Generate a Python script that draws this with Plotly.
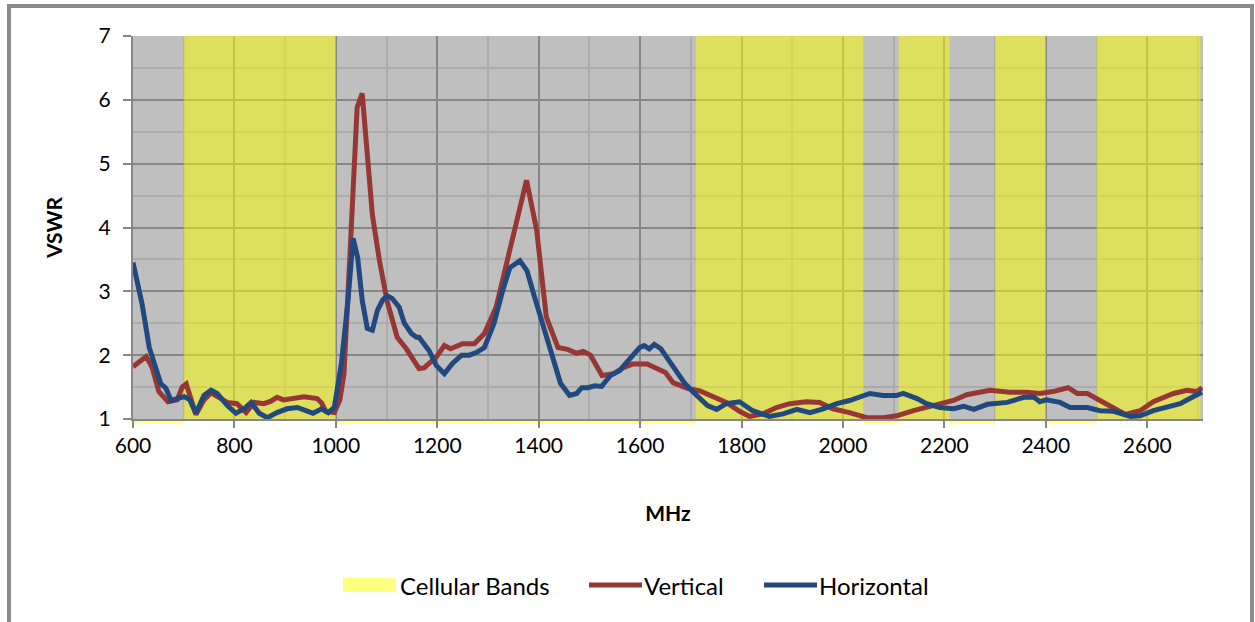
import plotly.graph_objects as go

# ---------------- data ----------------
vert_f = [600, 626, 638, 651, 669, 687, 697, 705, 724, 740, 754, 770, 786, 805, 823, 839, 858, 872, 884, 897,
          917, 937, 963, 972, 980, 997, 1008, 1016, 1026, 1042, 1052, 1062, 1072, 1086, 1101, 1121, 1139, 1164,
          1174, 1198, 1214, 1226, 1234, 1250, 1273, 1293, 1316, 1339, 1354, 1376, 1396, 1415, 1438, 1457, 1475,
          1488, 1502, 1525, 1548, 1568, 1585, 1614, 1633, 1650, 1665, 1693, 1718, 1737, 1751, 1770, 1796, 1816,
          1842, 1869, 1895, 1928, 1954, 1980, 2013, 2047, 2079, 2106, 2139, 2165, 2197, 2218, 2244, 2290, 2329,
          2362, 2388, 2414, 2444, 2462, 2482, 2507, 2534, 2557, 2586, 2612, 2652, 2678, 2698, 2708]
vert_v = [1.82, 1.98, 1.80, 1.43, 1.27, 1.30, 1.50, 1.55, 1.07, 1.30, 1.41, 1.34, 1.26, 1.24, 1.10, 1.26, 1.24, 1.28,
          1.34, 1.30, 1.33, 1.35, 1.32, 1.25, 1.12, 1.10, 1.30, 1.71, 3.28, 5.88, 6.10, 5.10, 4.20, 3.48, 2.85, 2.28,
          2.10, 1.79, 1.80, 1.97, 2.15, 2.10, 2.13, 2.18, 2.18, 2.34, 2.75, 3.53, 4.06, 4.74, 3.96, 2.60, 2.12, 2.09,
          2.03, 2.06, 2.00, 1.68, 1.71, 1.81, 1.86, 1.86, 1.79, 1.73, 1.57, 1.48, 1.44, 1.37, 1.34, 1.26, 1.12, 1.04,
          1.08, 1.18, 1.24, 1.27, 1.26, 1.16, 1.10, 1.02, 1.02, 1.05, 1.13, 1.18, 1.26, 1.29, 1.38, 1.45, 1.42, 1.42,
          1.40, 1.43, 1.49, 1.40, 1.40, 1.29, 1.16, 1.07, 1.13, 1.27, 1.40, 1.45, 1.43, 1.49]

horz_f = [600, 618, 632, 645, 655, 665, 675, 687, 701, 712, 724, 740, 754, 766, 786, 803, 819, 833, 849, 865, 884,
          904, 924, 941, 955, 972, 985, 997, 1011, 1024, 1034, 1043, 1052, 1062, 1072, 1082, 1092, 1101, 1111, 1125,
          1135, 1149, 1159, 1164, 1179, 1184, 1198, 1214, 1230, 1248, 1263, 1277, 1293, 1312, 1329, 1343, 1363,
          1377, 1390, 1410, 1429, 1443, 1461, 1475, 1485, 1497, 1511, 1524, 1541, 1560, 1574, 1586, 1599, 1608,
          1618, 1628, 1641, 1654, 1671, 1687, 1701, 1717, 1733, 1751, 1770, 1796, 1822, 1855, 1882, 1909, 1935,
          1961, 1988, 2013, 2033, 2053, 2079, 2106, 2119, 2146, 2165, 2191, 2218, 2238, 2258, 2285, 2324, 2357,
          2377, 2388, 2401, 2428, 2448, 2482, 2507, 2534, 2567, 2586, 2612, 2645, 2665, 2684, 2698, 2708]
horz_v = [3.45, 2.80, 2.12, 1.81, 1.55, 1.48, 1.29, 1.32, 1.35, 1.30, 1.09, 1.37, 1.45, 1.40, 1.21, 1.09, 1.16, 1.26,
          1.09, 1.02, 1.10, 1.16, 1.18, 1.13, 1.09, 1.16, 1.10, 1.18, 1.87, 2.86, 3.83, 3.53, 2.86, 2.42, 2.39, 2.70,
          2.86, 2.93, 2.89, 2.75, 2.50, 2.34, 2.28, 2.28, 2.12, 2.07, 1.84, 1.71, 1.87, 2.00, 2.00, 2.04, 2.12, 2.50,
          3.01, 3.37, 3.48, 3.32, 2.96, 2.44, 1.92, 1.56, 1.37, 1.40, 1.49, 1.49, 1.52, 1.51, 1.68, 1.76, 1.89, 2.00,
          2.12, 2.15, 2.10, 2.17, 2.10, 1.95, 1.76, 1.57, 1.45, 1.32, 1.21, 1.15, 1.24, 1.27, 1.13, 1.04, 1.08, 1.15,
          1.10, 1.16, 1.24, 1.29, 1.34, 1.40, 1.37, 1.37, 1.40, 1.32, 1.24, 1.18, 1.16, 1.20, 1.15, 1.23, 1.26, 1.34,
          1.34, 1.27, 1.30, 1.26, 1.18, 1.18, 1.13, 1.12, 1.04, 1.05, 1.13, 1.21, 1.24, 1.32, 1.37, 1.42]

band_start = [700, 1710, 2110, 2300, 2500]
band_end = [1000, 2040, 2210, 2400, 2705]
gap_start = [600, 1000, 2040, 2210, 2400]
gap_end = [700, 1710, 2110, 2300, 2500]

x_ticks = [600, 800, 1000, 1200, 1400, 1600, 1800, 2000, 2200, 2400, 2600]
y_ticks = [1, 2, 3, 4, 5, 6, 7]

X_MIN, X_MAX = 600, 2710
Y_MIN, Y_MAX = 1, 7

# ---------------- styles ----------------
FONT = "Lato"
RED = "#973735"
BLUE = "#21497F"
YELLOW_T = "rgba(255,255,0,0.5)"
W, H = 1255, 622
ML, MR, MT, MB = 133, 52, 36, 203
PW, PH = W - ML - MR, H - MT - MB

def px_x(p):
    return (p - ML) / PW

def px_y(p):
    return (H - MB - p) / PH

fig = go.Figure()

# cellular bands as bars
fig.add_trace(go.Bar(
    x=[(a + b) / 2 for a, b in zip(band_start, band_end)],
    y=[Y_MAX - Y_MIN] * len(band_start),
    base=[Y_MIN] * len(band_start),
    width=[b - a for a, b in zip(band_start, band_end)],
    marker=dict(color=YELLOW_T, line=dict(width=0)),
    showlegend=False, hoverinfo="skip",
))

fig.add_trace(go.Scatter(x=vert_f, y=vert_v, mode="lines",
                         line=dict(color=RED, width=5), showlegend=False))
fig.add_trace(go.Scatter(x=horz_f, y=horz_v, mode="lines",
                         line=dict(color=BLUE, width=5), showlegend=False))

shapes = []
# thin light-yellow strips under the axis
for a, b in zip(gap_start, gap_end):
    shapes.append(dict(type="rect", xref="paper", yref="paper",
                       x0=(a - X_MIN) / (X_MAX - X_MIN), x1=(b - X_MIN) / (X_MAX - X_MIN),
                       y0=px_y(423), y1=px_y(420), fillcolor="#FFFF80",
                       line=dict(width=0), layer="below"))
# outer border
shapes.append(dict(type="rect", xref="paper", yref="paper",
                   x0=px_x(9), x1=px_x(1252), y0=px_y(640), y1=px_y(6),
                   line=dict(color="#8C8C8C", width=4), fillcolor="rgba(0,0,0,0)", layer="above"))

# manual legend
leg_y = 585
shapes.append(dict(type="rect", xref="paper", yref="paper",
                   x0=px_x(343), x1=px_x(396), y0=px_y(592), y1=px_y(578),
                   fillcolor="#FFFF80", line=dict(width=0)))
shapes.append(dict(type="line", xref="paper", yref="paper",
                   x0=px_x(589), x1=px_x(642), y0=px_y(leg_y), y1=px_y(leg_y),
                   line=dict(color=RED, width=5)))
shapes.append(dict(type="line", xref="paper", yref="paper",
                   x0=px_x(764), x1=px_x(817), y0=px_y(leg_y), y1=px_y(leg_y),
                   line=dict(color=BLUE, width=5)))

annotations = []
for txt, xp in [("Cellular Bands", 398), ("Vertical", 642), ("Horizontal", 817)]:
    annotations.append(dict(text=txt, xref="paper", yref="paper", x=px_x(xp), y=px_y(leg_y),
                            xanchor="left", yanchor="middle", showarrow=False,
                            font=dict(family=FONT, size=24, color="#000000")))

fig.update_layout(
    width=W, height=H,
    margin=dict(l=ML, r=MR, t=MT, b=MB, pad=0),
    paper_bgcolor="white", plot_bgcolor="#BFBFBF",
    barmode="overlay",
    shapes=shapes, annotations=annotations,
    font=dict(family=FONT, size=20, color="#000000"),
    xaxis=dict(range=[X_MIN, X_MAX], tickvals=x_ticks, ticktext=[str(t) for t in x_ticks],
               showgrid=True, gridcolor="#878787", gridwidth=2,
               minor=dict(dtick=100, tick0=600, showgrid=True, gridcolor="#ABABAB", gridwidth=1.5),
               showline=True, linecolor="#878787", linewidth=2,
               ticks="outside", ticklen=7, tickcolor="#878787", tickwidth=2,
               ticklabelstandoff=0,
               zeroline=False,
               title=dict(text="<b>MHz</b>", font=dict(family=FONT, size=21), standoff=50),
               tickfont=dict(family=FONT, size=21)),
    yaxis=dict(range=[Y_MIN, Y_MAX], tickvals=y_ticks,
               showgrid=True, gridcolor="#878787", gridwidth=2,
               minor=dict(dtick=0.5, tick0=1, showgrid=True, gridcolor="#ABABAB", gridwidth=1.5),
               showline=True, linecolor="#878787", linewidth=2,
               ticks="outside", ticklen=8, tickcolor="#878787", tickwidth=2,
               ticklabelstandoff=8,
               zeroline=False,
               title=dict(text="<b>VSWR</b>", font=dict(family=FONT, size=21), standoff=30),
               tickfont=dict(family=FONT, size=21)),
)

fig.write_html("out.html")
